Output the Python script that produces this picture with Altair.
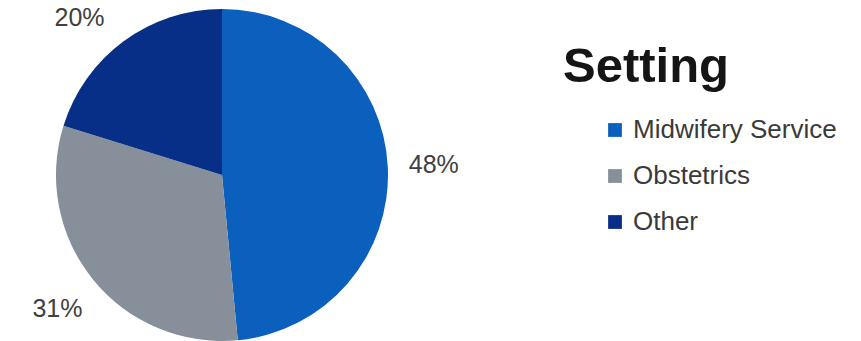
import altair as alt
import pandas as pd

categories = ["Midwifery Service", "Obstetrics", "Other"]
values = [48, 31, 20]
labels = ["48%", "31%", "20%"]
colors = ["#0b5fbd", "#868f9a", "#072f87"]
order = [0, 1, 2]

CX, CY, R, LR, TOP = 222, 175, 166, 212, 18

df = pd.DataFrame({"setting": categories, "value": values, "label": labels, "idx": order})

pie = alt.Chart(df).mark_arc(radius=R).encode(
    theta=alt.Theta("value:Q", stack=True),
    order=alt.Order("idx:Q"),
    x=alt.value(CX),
    y=alt.value(CY),
    color=alt.Color(
        "setting:N",
        scale=alt.Scale(domain=categories, range=colors),
        sort=categories,
        legend=alt.Legend(
            title=None,
            orient="none",
            legendX=602,
            legendY=117,
            symbolType="square",
            symbolSize=190,
            symbolStrokeWidth=0,
            labelFontSize=26,
            labelFont="Liberation Sans",
            labelColor="#3a3a3a",
            labelOffset=5,
            rowPadding=20,
            labelLimit=400,
        ),
    ),
)

# label positions: on a circle of radius LR at the slice mid-angle, kept inside the top edge
text = alt.Chart(df).transform_joinaggregate(
    total="sum(value)"
).transform_window(
    cum="sum(value)", sort=[alt.SortField("idx")]
).transform_calculate(
    mid=f"(datum.cum - datum.value/2) / datum.total * 2 * PI",
).transform_calculate(
    dy=f"max(-{LR} * cos(datum.mid), {TOP} - {CY})",
).transform_calculate(
    dx=f"(sin(datum.mid) < 0 ? -1 : 1) * sqrt({LR}*{LR} - datum.dy*datum.dy)",
).transform_calculate(
    px=f"{CX} + datum.dx", py=f"{CY} + datum.dy"
).mark_text(
    fontSize=25, font="Liberation Sans", color="#404040"
).encode(
    x=alt.X("px:Q", scale=None),
    y=alt.Y("py:Q", scale=None),
    text="label:N",
)

title_df = pd.DataFrame({"t": ["Setting"]})
title = alt.Chart(title_df).mark_text(
    fontSize=49, fontWeight="bold", font="Liberation Sans", color="#151515",
    align="left", baseline="alphabetic"
).encode(text="t:N", x=alt.value(563), y=alt.value(82))

chart = alt.layer(pie, text, title).properties(
    width=861, height=341, padding=0,
    autosize=alt.AutoSizeParams(type="none"),
).configure_view(stroke=None)

chart.save("out.html", embed_options={"renderer": "svg", "actions": False})
